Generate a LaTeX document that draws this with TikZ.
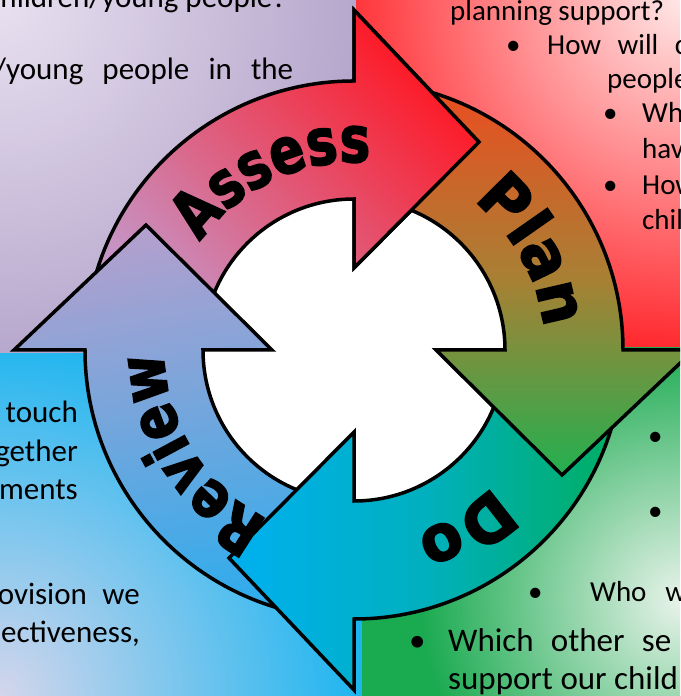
\documentclass[tikz,border=0pt]{standalone}
\usepackage{fontspec}
\setmainfont{Carlito}
\newfontfamily\cyclenarrow{DejaVu Sans}[FakeStretch=0.8, FakeBold=2.5]
\newfontfamily\cyclewide{DejaVu Sans}[FakeStretch=0.95, FakeBold=2.5]
\usetikzlibrary{calc,decorations.text}

% quadrant colours
\definecolor{tlLight}{RGB}{232,225,240}
\definecolor{tlDark}{RGB}{176,160,200}
\definecolor{trLight}{RGB}{255,230,230}
\definecolor{trDark}{RGB}{255,24,30}
\definecolor{blLight}{RGB}{212,214,236}
\definecolor{blDark}{RGB}{0,176,240}
\definecolor{brLight}{RGB}{232,243,234}
\definecolor{brDark}{RGB}{26,170,80}
% arrow colours
\definecolor{assessA}{RGB}{198,148,196}
\definecolor{assessB}{RGB}{255,22,34}
\definecolor{planA}{RGB}{236,76,32}
\definecolor{planM}{RGB}{168,128,52}
\definecolor{planB}{RGB}{34,176,80}
\definecolor{doA}{RGB}{0,176,240}
\definecolor{doM}{RGB}{0,176,190}
\definecolor{doB}{RGB}{0,174,96}
\definecolor{reviewA}{RGB}{178,160,206}
\definecolor{reviewB}{RGB}{48,172,236}

\tikzset{
  % quarter ring with its head, #1 = tail angle, #2 = head angle
  ringarrow/.style 2 args={insert path={
    ($(c)+(#1:269)$) arc[start angle=#1, end angle=#2, radius=269]
    -- ($(c)+(#2:340)$) -- ($(c)+(#2:208)+(#2-90:125)$)
    -- ($(c)+(#2:82)$) -- ($(c)+(#2:151)$)
    arc[start angle=#2, end angle=#1, radius=151] -- cycle}},
  outline/.style={draw=black, line width=3.5pt, line join=miter},
  tl/.style={inner sep=0pt, font=\fontsize{31}{37}\selectfont},
  tr/.style={inner sep=0pt, font=\fontsize{29}{35}\selectfont},
  bl/.style={inner sep=0pt, font=\fontsize{31}{37}\selectfont},
  br/.style={inner sep=0pt, font=\fontsize{29}{35}\selectfont},
  brbig/.style={inner sep=0pt, font=\fontsize{33}{40}\selectfont},
  cycleword/.style 2 args={decorate, decoration={text along path, text align=center,
    text={|#1\bfseries\fontsize{64}{64}\selectfont|#2}}}
}

\begin{document}
\begin{tikzpicture}[x=1pt, y=1pt]
    \useasboundingbox (0,0) rectangle (680,696);
    \clip (0,0) rectangle (680,696);
    \coordinate (c) at (354,346);

    % four quadrant panels, light towards the outer corner
    \foreach \xa/\ya/\xb/\yb/\cx/\cy/\rad/\q in {
        0/342/356/696/0/696/400/tl, 356/348/680/696/680/696/380/tr,
        0/0/362/342/0/0/420/bl, 362/0/680/348/680/96/260/br} {
        \fill[\q Dark] (\xa,\ya) rectangle (\xb,\yb);
        \begin{scope}
            \clip (\xa,\ya) rectangle (\xb,\yb);
            \shade[inner color=\q Light, outer color=\q Dark] (\cx,\cy) circle (\rad);
        \end{scope}
    }

    % panel text (top left)
    \node[tl, anchor=base east] (tlA) at (287,688) {children/young people?};
    \node[tl, anchor=base west] (tlB) at (-6,616) {\makebox[299pt][s]{/young people in the}};

    % panel text (top right)
    \node[tr, anchor=base west] (trA) at (450,675) {planning support?};
    \node[tr, anchor=base west] (trDotA) at (506,641) {•};
    \node[tr, anchor=base west] (trB) at (547,641) {\makebox[140pt][s]{How will c}};
    \node[tr, anchor=base west] (trC) at (607,607) {people};
    \node[tr, anchor=base west] (trDotB) at (603,573) {•};
    \node[tr, anchor=base west] (trD) at (642,573) {Wh};
    \node[tr, anchor=base west] (trE) at (642,537) {hav};
    \node[tr, anchor=base west] (trDotC) at (603,501) {•};
    \node[tr, anchor=base west] (trF) at (642,501) {How};
    \node[tr, anchor=base west] (trG) at (642,466) {chil};

    % panel text (bottom right)
    \node[br, anchor=base west] (brDotA) at (648,250) {•};
    \node[br, anchor=base west] (brDotB) at (648,175) {•};
    \node[br, anchor=base west] (brDotC) at (528,94) {•};
    \node[br, anchor=base west] (brA) at (590,94) {\makebox[96pt][s]{Who w}};
    \node[brbig, anchor=base west] (brDotD) at (409,44) {•};
    \node[brbig, anchor=base west] (brB) at (448,44) {\makebox[223pt][s]{Which other se}};
    \node[brbig, anchor=base west] (brC) at (448,6) {support our child};

    % panel text (bottom left)
    \node[bl, anchor=base east] (blA) at (78,273) {touch};
    \node[bl, anchor=base east] (blB) at (78,234) {gether};
    \node[bl, anchor=base east] (blC) at (78,196) {ments};
    \node[bl, anchor=base east] (blD) at (140,91) {\makebox[142pt][s]{ovision we}};
    \node[bl, anchor=base east] (blE) at (140,53) {ectiveness,};

    % white hub
    \fill[white] (c) circle (152);

    % the cycle: each head sits on the tail of the next arrow
    \shadedraw[outline, top color=assessB, bottom color=assessA, shading angle=-45, ringarrow={172}{90}];
    \shadedraw[outline, top color=reviewA, bottom color=reviewB, shading angle=10, ringarrow={-98}{-180}];
    \shadedraw[outline, left color=doA, right color=doB, middle color=doM, ringarrow={-8}{-90}];
    \shadedraw[outline, top color=planA, bottom color=planB, middle color=planM, ringarrow={82}{0}];
    % Assess head once more, over the tail of Plan
    \begin{scope}
        \clip ($(c)+(-3,0)$) rectangle (680,696);
        \shadedraw[outline, top color=assessB, bottom color=assessA, shading angle=-45, ringarrow={172}{90}];
    \end{scope}

    % words along the ring
    \path[cycleword={\cyclenarrow}{Assess}] ($(c)+(165:188)$) arc[start angle=165, end angle=65, radius=188];
    \path[cycleword={\cyclewide}{Plan}] ($(c)+(79:191)$) arc[start angle=79, end angle=-21, radius=191];
    \path[cycleword={\cyclewide}{Do}] ($(c)+(-8:194)$) arc[start angle=-8, end angle=-108, radius=194];
    \path[cycleword={\cyclenarrow}{Review}] ($(c)+(262:190)$) arc[start angle=262, end angle=162, radius=190];
\end{tikzpicture}
\end{document}
